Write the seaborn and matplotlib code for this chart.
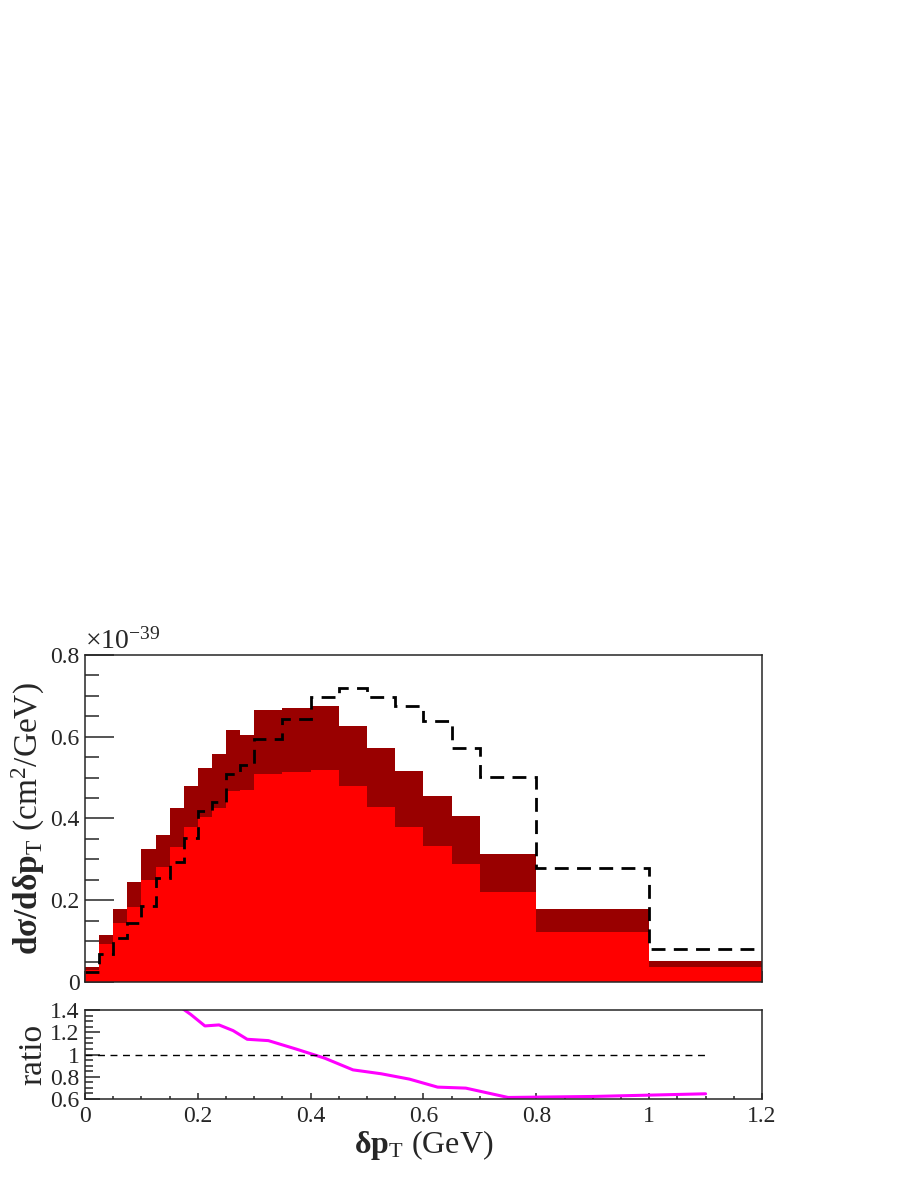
import numpy as np
import pandas as pd
import matplotlib
matplotlib.use('Agg')
from matplotlib import pyplot as plt
from matplotlib.ticker import MultipleLocator, FormatStrFormatter
import seaborn as sns

# bin edges (GeV)
edges = [0.0, 0.025, 0.05, 0.075, 0.1, 0.125, 0.15, 0.175, 0.2, 0.225, 0.25, 0.275, 0.3,
         0.35, 0.4, 0.45, 0.5, 0.55, 0.6, 0.65, 0.7, 0.8, 1.0, 1.2]
# cross sections in units of 1e-39 cm^2/GeV
total = [0.036, 0.115, 0.179, 0.245, 0.325, 0.360, 0.425, 0.480, 0.523, 0.557, 0.617, 0.603,
         0.665, 0.670, 0.676, 0.625, 0.572, 0.516, 0.456, 0.406, 0.313, 0.178, 0.052]
partial = [0.029, 0.093, 0.144, 0.184, 0.250, 0.281, 0.331, 0.378, 0.404, 0.425, 0.467, 0.469,
           0.508, 0.514, 0.519, 0.480, 0.429, 0.378, 0.333, 0.288, 0.219, 0.123, 0.037]
other = [0.024, 0.068, 0.107, 0.145, 0.187, 0.254, 0.294, 0.352, 0.419, 0.441, 0.508, 0.531,
         0.594, 0.643, 0.698, 0.718, 0.696, 0.676, 0.638, 0.572, 0.502, 0.278, 0.081]
# ratio curve
ratio_x = [0.0125, 0.0375, 0.0625, 0.0875, 0.1125, 0.1375, 0.1625, 0.1875, 0.2125, 0.2375,
           0.2625, 0.2875, 0.325, 0.375, 0.425, 0.475, 0.525, 0.575, 0.625, 0.675, 0.75, 0.9, 1.1]
ratio_y = [1.50, 1.69, 1.67, 1.69, 1.74, 1.42, 1.45, 1.36, 1.257, 1.266, 1.215, 1.137,
           1.125, 1.048, 0.967, 0.862, 0.827, 0.779, 0.707, 0.698, 0.614, 0.623, 0.647]

sns.set_style('ticks')
plt.rcParams['font.family'] = ['Liberation Serif', 'DejaVu Serif']
plt.rcParams['mathtext.fontset'] = 'custom'
plt.rcParams['mathtext.rm'] = 'Liberation Serif'
plt.rcParams['mathtext.it'] = 'Liberation Serif:italic'
plt.rcParams['mathtext.bf'] = 'Liberation Serif:bold'
plt.rcParams['axes.linewidth'] = 1.1

centers = [(a + b) / 2 for a, b in zip(edges[:-1], edges[1:])]
df = pd.DataFrame({'x': centers, 'total': total, 'partial': partial, 'other': other})

fig = plt.figure(figsize=(9.13, 11.82), dpi=100)
ax = fig.add_axes([0.0931, 0.1692, 0.7415, 0.2767])
axr = fig.add_axes([0.0931, 0.0702, 0.7415, 0.0753])

sns.histplot(data=df, x='x', weights='total', bins=edges, element='step', fill=True,
             color='#990000', alpha=1, linewidth=0, ax=ax)
sns.histplot(data=df, x='x', weights='partial', bins=edges, element='step', fill=True,
             color='#ff0000', alpha=1, linewidth=0, ax=ax)
ax.stairs(other, edges, baseline=None, color='black', lw=2, ls=(0, (5, 3)))

ax.set_xlim(0, 1.2)
ax.set_ylim(0, 0.8)
ax.set_xlabel('')
ax.set_ylabel(r'$\mathbf{dσ/dδp}_{\mathrm{T}}$ (cm$^{2}$/GeV)', fontsize=24, labelpad=2)
ax.yaxis.set_major_locator(MultipleLocator(0.2))
ax.yaxis.set_minor_locator(MultipleLocator(0.05))
ax.xaxis.set_major_locator(MultipleLocator(0.2))
ax.xaxis.set_minor_locator(MultipleLocator(0.05))
ax.yaxis.set_major_formatter(FormatStrFormatter('%g'))
ax.tick_params(axis='y', which='major', direction='in', length=21, width=1.1, labelsize=17, pad=4)
ax.tick_params(axis='y', which='minor', direction='in', length=10, width=1.1)
ax.tick_params(axis='x', which='major', direction='in', length=8, width=1.1, labelbottom=False)
ax.tick_params(axis='x', which='minor', direction='in', length=4.3, width=1.1)
ax.text(0.0, 1.0, r'$\times$10$^{-39}$', transform=ax.transAxes, fontsize=20,
        ha='left', va='bottom')

sns.lineplot(x=ratio_x, y=ratio_y, color='#ff00ff', lw=2.2, ax=axr, sort=False)
axr.plot([0, 1.1], [1, 1], color='black', lw=1, ls=(0, (5, 4)))
axr.set_xlim(0, 1.2)
axr.set_ylim(0.6, 1.4)
axr.xaxis.set_major_locator(MultipleLocator(0.2))
axr.xaxis.set_minor_locator(MultipleLocator(0.05))
axr.yaxis.set_major_locator(MultipleLocator(0.2))
axr.yaxis.set_minor_locator(MultipleLocator(0.05))
axr.xaxis.set_major_formatter(FormatStrFormatter('%g'))
axr.yaxis.set_major_formatter(FormatStrFormatter('%g'))
axr.tick_params(axis='y', which='major', direction='in', length=11, width=1.1, labelsize=17, pad=4)
axr.tick_params(axis='y', which='minor', direction='in', length=5.8, width=1.1)
axr.tick_params(axis='x', which='major', direction='in', length=4.3, width=1.1, labelsize=17, pad=5)
axr.tick_params(axis='x', which='minor', direction='in', length=2.2, width=1.1)
axr.set_ylabel('ratio', fontsize=24, labelpad=1)
axr.set_xlabel(r'$\mathbf{δp}_{\mathrm{T}}$ (GeV)', fontsize=23, labelpad=1)

fig.savefig('out.png', dpi=100)
